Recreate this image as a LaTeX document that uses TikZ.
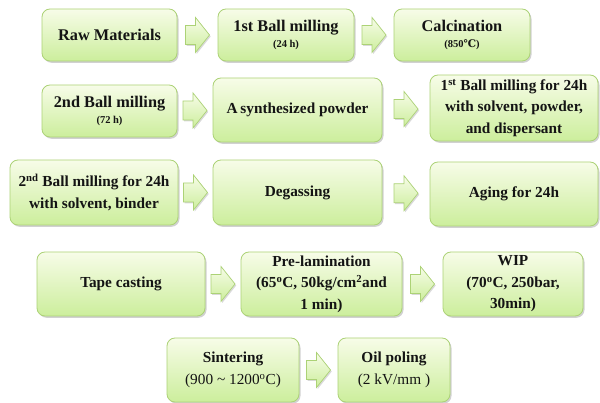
\documentclass[tikz,border=0pt]{standalone}
\usepackage{fontspec}
\setmainfont{Liberation Serif}
\newfontfamily\dvs{DejaVu Serif}
\usetikzlibrary{shadows,calc}
\definecolor{boxtop}{RGB}{247,252,232}
\definecolor{boxbot}{RGB}{204,238,156}
\definecolor{boxline}{RGB}{172,210,118}
\definecolor{txt}{RGB}{20,20,20}
\tikzset{
  stepbox/.style={rounded corners=8pt, draw=boxline, line width=0.8pt,
    top color=boxtop, bottom color=boxbot,
    drop shadow={shadow xshift=1.5pt, shadow yshift=-1.8pt, fill=black, opacity=0.18},
    align=center, inner sep=0pt, text=txt,
    font=\bfseries\fontsize{15.3}{21.5}\selectfont},
  bigtxt/.style={font=\bfseries\fontsize{16.3}{21.5}\selectfont},
  arrowbody/.style={draw=boxline, line width=0.7pt, line join=miter,
    top color=boxtop, bottom color=boxbot,
    drop shadow={shadow xshift=1.2pt, shadow yshift=-1.5pt, fill=black, opacity=0.15}},
  blockarr/.pic={
    \path[arrowbody] (-12,-9.5) -- (-2,-9.5) -- (-2,-17.5) -- (12,0)
      -- (-2,17.5) -- (-2,9.5) -- (-12,9.5) -- cycle;
  },
}
\newcommand{\smalltxt}[1]{{\fontsize{10.5}{12}\selectfont #1}}
\begin{document}
\begin{tikzpicture}[x=1pt,y=-1pt]
\useasboundingbox[fill=white] (0,0) rectangle (600,403);
% row 1
\node[stepbox, bigtxt, minimum width=135pt, minimum height=52pt] (raw) at (109.5,35) {Raw Materials};
\node[stepbox, bigtxt, minimum width=136pt, minimum height=52pt] (ballA) at (286,35) {1st Ball milling\\[-5.5pt]\smalltxt{(24 h)}};
\node[stepbox, bigtxt, minimum width=136pt, minimum height=52pt] (calc) at (462,35) {Calcination\\[-5.5pt]\smalltxt{(850{\dvs ℃})}};
% row 2
\node[stepbox, bigtxt, minimum width=135pt, minimum height=52pt] (ballB) at (109.5,111) {2nd Ball milling\\[-5.5pt]\smalltxt{(72 h)}};
\node[stepbox, minimum width=169pt, minimum height=64pt] (synth) at (297.5,110) {A\kern-1pt{} synthesized powder};
\node[stepbox, minimum width=168pt, minimum height=66pt] (ballC) at (514,108) {1\textsuperscript{st} Ball milling for 24h\\with solvent, powder,\\and dispersant};
% row 3
\node[stepbox, minimum width=168pt, minimum height=65pt] (ballD) at (94,192.5) {2\textsuperscript{nd} Ball milling for 24h\\with solvent, binder};
\node[stepbox, minimum width=169pt, minimum height=65pt] (degas) at (297.5,192.5) {Degassing};
\node[stepbox, minimum width=168pt, minimum height=64pt] (aging) at (514,194) {Aging for 24h};
% row 4
\node[stepbox, minimum width=168pt, minimum height=64pt] (tape) at (121,284) {Tape casting};
\node[stepbox, minimum width=161pt, minimum height=64pt] (prelam) at (321.5,284) {Pre-lamination\\(65\textsuperscript{o}C, 50kg/cm\textsuperscript{2}and\\1 min)};
\node[stepbox, minimum width=140pt, minimum height=64pt] (wip) at (513,284) {WIP\\(70\textsuperscript{o}C, 250bar,\\30min)};
% row 5
\node[stepbox, minimum width=132pt, minimum height=64pt] (sinter) at (233,370) {Sintering\\\mdseries(900 \textasciitilde{} 1200\textsuperscript{o}C)};
\node[stepbox, minimum width=112pt, minimum height=64pt] (oil) at (394,370) {Oil poling\\\mdseries(2 kV/mm )};
% arrows
\pic at ($(raw.east)!0.5!(ballA.west)$) {blockarr};
\pic at ($(ballA.east)!0.5!(calc.west)$) {blockarr};
\pic at ($(ballB.east)!0.5!(synth.west)$) {blockarr};
\pic at ($(synth.east)!0.5!(ballC.west)$) {blockarr};
\pic at ($(ballD.east)!0.5!(degas.west)$) {blockarr};
\pic at ($(degas.east)!0.5!(aging.west)$) {blockarr};
\pic at ($(tape.east)!0.5!(prelam.west)$) {blockarr};
\pic at ($(prelam.east)!0.5!(wip.west)$) {blockarr};
\pic at ($(sinter.east)!0.5!(oil.west)$) {blockarr};
\end{tikzpicture}
\end{document}
